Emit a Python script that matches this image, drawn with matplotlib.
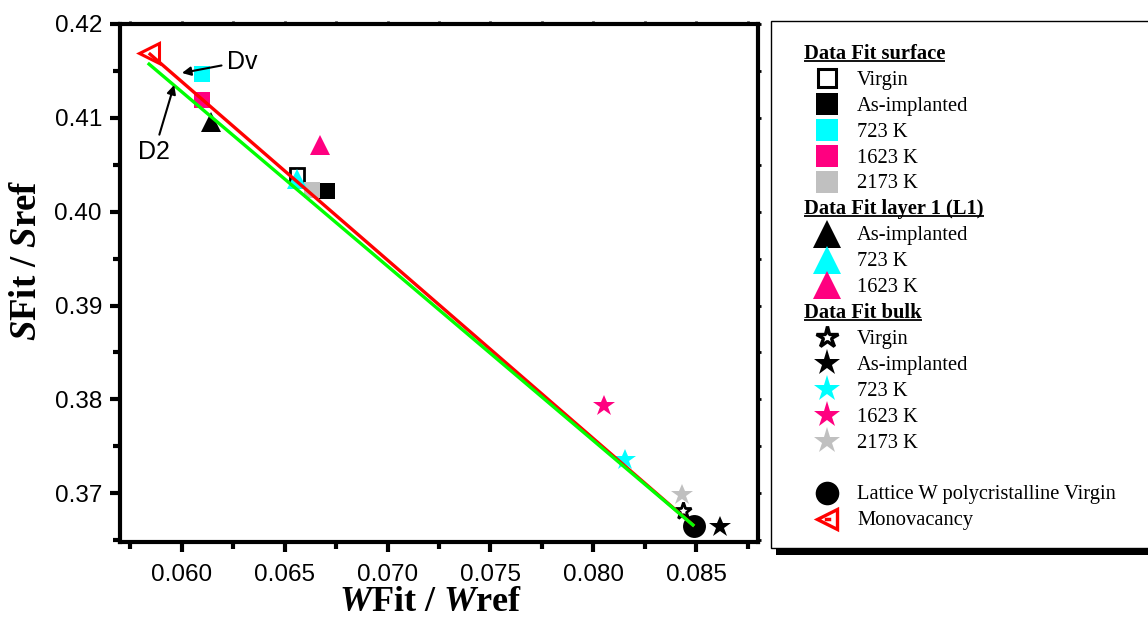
import matplotlib
matplotlib.use('Agg')
import matplotlib.pyplot as plt
from matplotlib.patches import Rectangle
from matplotlib.ticker import MultipleLocator, FormatStrFormatter

plt.rcParams['mathtext.fontset'] = 'custom'
plt.rcParams['mathtext.it'] = 'Liberation Serif:italic:bold'
plt.rcParams['mathtext.rm'] = 'Liberation Serif:bold'
plt.rcParams['mathtext.bf'] = 'Liberation Serif:bold'

# ---------------- data ----------------
surface_labels = ['Virgin', 'As-implanted', '723 K', '1623 K', '2173 K']
surface_W = [0.06558, 0.06707, 0.06097, 0.06097, 0.06631]
surface_S = [0.4039, 0.4022, 0.41467, 0.4119, 0.4023]

layer1_labels = ['As-implanted', '723 K', '1623 K']
layer1_W = [0.06141, 0.06558, 0.06671]
layer1_S = [0.40958, 0.40348, 0.4071]

bulk_labels = ['Virgin', 'As-implanted', '723 K', '1623 K', '2173 K']
bulk_W = [0.08438, 0.08613, 0.08152, 0.08050, 0.08432]
bulk_S = [0.36811, 0.36641, 0.37359, 0.37931, 0.36979]

lattice_label = 'Lattice W polycristalline Virgin'
lattice_W = [0.0849]
lattice_S = [0.3665]

mono_label = 'Monovacancy'
mono_W = [0.0584]
mono_S = [0.4169]

dv_line_W = [0.0584, 0.0849]
dv_line_S = [0.4169, 0.3665]
d2_line_W = [0.05835, 0.0849]
d2_line_S = [0.41584, 0.3665]

# ---------------- styles ----------------
CYAN = '#00FFFF'
PINK = '#FF0080'
GRAY = '#C0C0C0'
RED = '#FF0000'
GREEN = '#00FF00'
cat_colors = ['white', 'black', CYAN, PINK, GRAY]
l1_colors = ['black', CYAN, PINK]

Wpx, Hpx = 1148, 617
fig = plt.figure(figsize=(Wpx / 100, Hpx / 100), dpi=100)
ax = fig.add_axes([120 / Wpx, 1 - 542 / Hpx, (758 - 120) / Wpx, (542 - 24) / Hpx])

# surface squares
for w, s, c in zip(surface_W, surface_S, cat_colors):
    if c == 'white':
        ax.plot(w, s, ls='none', marker='s', ms=10.5, mfc='white', mec='black', mew=2.0, zorder=3)
    else:
        ax.plot(w, s, ls='none', marker='s', ms=12, mfc=c, mec=c, mew=0, zorder=3)

# layer 1 triangles
for w, s, c in zip(layer1_W, layer1_S, l1_colors):
    ax.plot(w, s, ls='none', marker='^', ms=14.5, mfc=c, mec=c, mew=0, zorder=4)

# bulk stars
for w, s, c in zip(bulk_W, bulk_S, cat_colors):
    if c == 'white':
        ax.plot(w, s, ls='none', marker='*', ms=12.5, mfc='white', mec='black', mew=2.0, zorder=4)
    else:
        ax.plot(w, s, ls='none', marker='*', ms=16.5, mfc=c, mec=c, mew=0, zorder=4)

# lattice circle
ax.plot(lattice_W, lattice_S, ls='none', marker='o', ms=16.5, mfc='black', mec='black', mew=0, zorder=5)
# monovacancy
ax.plot(mono_W, mono_S, ls='none', marker='<', ms=14.5, mfc='white', mec=RED, mew=2.2, zorder=5)

# lines
ax.plot(dv_line_W, dv_line_S, color=RED, lw=2.4, zorder=6, solid_capstyle='butt')
ax.plot(d2_line_W, d2_line_S, color=GREEN, lw=2.4, zorder=7, solid_capstyle='butt')

# annotations
ax.annotate('Dv', xy=(0.06001, 0.41478), xytext=(0.0622, 0.4160),
            fontsize=18, family='Liberation Sans', ha='left', va='center',
            arrowprops=dict(arrowstyle='-|>', color='black', lw=1.5, mutation_scale=13,
                            shrinkA=2, shrinkB=0), zorder=8)
ax.annotate('D2', xy=(0.05963, 0.41350), xytext=(0.05866, 0.40635),
            fontsize=18, family='Liberation Sans', ha='center', va='center',
            arrowprops=dict(arrowstyle='-|>', color='black', lw=1.5, mutation_scale=13,
                            shrinkA=2, shrinkB=0), zorder=8)

# axes
ax.set_xlim(0.057, 0.088)
ax.set_ylim(0.3648, 0.42)
ax.xaxis.set_major_locator(MultipleLocator(0.005))
ax.xaxis.set_minor_locator(MultipleLocator(0.0025))
ax.yaxis.set_major_locator(MultipleLocator(0.01))
ax.yaxis.set_minor_locator(MultipleLocator(0.005))
ax.xaxis.set_major_formatter(FormatStrFormatter('%.3f'))
ax.yaxis.set_major_formatter(FormatStrFormatter('%.2f'))
ax.tick_params(which='major', direction='out', length=7, width=3, pad=6)
ax.tick_params(axis='x', which='major', pad=9)
ax.tick_params(which='minor', direction='out', length=5, width=3)
for lab in ax.get_xticklabels() + ax.get_yticklabels():
    lab.set_fontfamily('Liberation Sans')
    lab.set_fontsize(17.5)
for sp in ax.spines.values():
    sp.set_linewidth(3)

secx = ax.secondary_xaxis('top')
secx.xaxis.set_major_locator(MultipleLocator(0.005))
secx.xaxis.set_minor_locator(MultipleLocator(0.0025))
secx.tick_params(which='both', direction='out', length=2.5, width=2, labeltop=False)
secx.spines['top'].set_visible(False)
secy = ax.secondary_yaxis('right')
secy.yaxis.set_major_locator(MultipleLocator(0.01))
secy.yaxis.set_minor_locator(MultipleLocator(0.005))
secy.tick_params(which='both', direction='out', length=2.5, width=2, labelright=False)
secy.spines['right'].set_visible(False)

# axis labels
fig.text(430 / Wpx, 1 - 611 / Hpx, r'$\mathit{W}$Fit / $\mathit{W}$ref', fontsize=26,
         family='Liberation Serif', fontweight='bold', ha='center', va='baseline')
fig.text(27 / Wpx, 1 - 260 / Hpx, r'$\mathit{S}$Fit / $\mathit{S}$ref', fontsize=26.5,
         family='Liberation Serif', fontweight='bold', ha='center', va='center', rotation=90)

# ---------------- legend (drawn in pixel coordinates) ----------------
lax = fig.add_axes([0, 0, 1, 1])
lax.set_xlim(0, Wpx)
lax.set_ylim(Hpx, 0)
lax.axis('off')
lax.add_patch(Rectangle((776, 548), 400, 7, fc='black', ec='none', zorder=1))
lax.add_patch(Rectangle((770.5, 20.5), 400, 527.5, fc='white', ec='black', lw=1, zorder=2))

MX, TX, HX = 827, 857, 804
Y0, DY = 52.3, 25.9
tfont = dict(family='Liberation Serif', fontsize=14.8, va='baseline', ha='left', zorder=4)

headers = []

def header(i, txt):
    y = Y0 + i * DY
    t = lax.text(HX, y + 6.5, txt, fontweight='bold', **tfont)
    headers.append((t, y + 8.7))

def entry(i, txt, **mk):
    y = Y0 + i * DY
    lax.plot([MX], [y], ls='none', zorder=3, **mk)
    lax.text(TX, y + 6.7, txt, **tfont)
    return y

header(0, 'Data Fit surface')
for k, (lab, c) in enumerate(zip(surface_labels, cat_colors)):
    if c == 'white':
        entry(1 + k, lab, marker='s', ms=13.5, mfc='white', mec='black', mew=2.2)
    else:
        entry(1 + k, lab, marker='s', ms=15.5, mfc=c, mec=c, mew=0)
header(6, 'Data Fit layer 1 (L1)')
for k, (lab, c) in enumerate(zip(layer1_labels, l1_colors)):
    entry(7 + k, lab, marker='^', ms=20, mfc=c, mec=c, mew=0)
header(10, 'Data Fit bulk')
for k, (lab, c) in enumerate(zip(bulk_labels, cat_colors)):
    if c == 'white':
        entry(11 + k, lab, marker='*', ms=16, mfc='white', mec='black', mew=2.4)
    else:
        entry(11 + k, lab, marker='*', ms=19.5, mfc=c, mec=c, mew=0)
entry(17, lattice_label, marker='o', ms=17, mfc='black', mec='black', mew=0)
ym = entry(18, mono_label, marker='<', ms=15, mfc='white', mec=RED, mew=2.4)
lax.plot([MX - 1.5, MX + 1.5], [ym, ym], color=RED, lw=2.5, zorder=4)

fig.canvas.draw()
renderer = fig.canvas.get_renderer()
for t, yu in headers:
    bb = t.get_window_extent(renderer)
    lax.plot([bb.x0, bb.x1], [yu, yu], color='black', lw=1.3, zorder=4, solid_capstyle='butt')

fig.savefig('out.png', dpi=100)
